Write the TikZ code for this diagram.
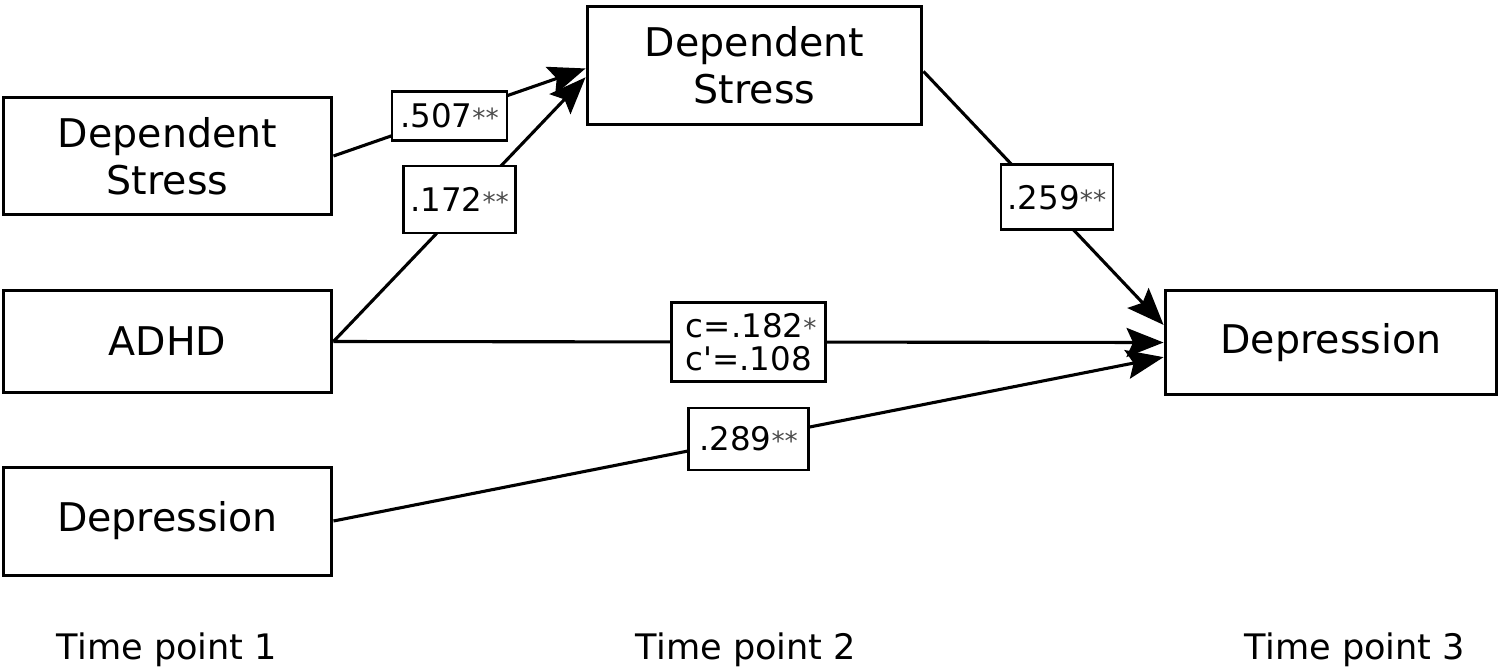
\documentclass[tikz,border=0pt]{standalone}
\usepackage{fontspec}
\setmainfont{DejaVu Sans}[Ligatures=ResetAll]
\usetikzlibrary{arrows.meta,calc}
\newcommand\mystars[1]{{\fontsize{15}{15}\selectfont\color{black!70}#1}}
\newcommand\myquote{\XeTeXglyph\XeTeXglyphindex "quotesingle"\relax}
\begin{document}
\begin{tikzpicture}[x=0.02cm,y=-0.02cm,
  box/.style={draw, line width=0.06cm, align=center, inner sep=0pt,
    font=\fontsize{22.5}{27}\selectfont},
  lab/.style={draw, fill=white, line width=0.055cm, align=center, inner sep=0pt,
    font=\fontsize{18.5}{19}\selectfont},
  conn/.style={line width=0.062cm, -{Stealth[length=0.74cm,width=0.58cm,inset=0.13cm]}},
  tp/.style={font=\fontsize{20}{24}\selectfont, inner sep=0pt}]
\useasboundingbox (0,0) rectangle (1500,670);
\node[box, minimum width=6.58cm, minimum height=2.36cm] (ds1) at (167.5,156) {Dependent\\Stress};
\node[box, minimum width=6.58cm, minimum height=2.06cm] (adhd) at (167.5,341.5) {ADHD};
\node[box, minimum width=6.58cm, minimum height=2.16cm] (dep1) at (167.5,521) {Depression};
\node[box, minimum width=6.70cm, minimum height=2.38cm] (ds2) at (754.5,65.5) {Dependent\\Stress};
\node[box, minimum width=6.64cm, minimum height=2.10cm] (dep3) at (1331,342.5) {Depression};
\draw[conn] (ds1.east) -- node[lab, pos=0.46, minimum width=2.3cm, minimum height=0.98cm] (l507) {.507\mystars{**}} (ds2.181);
\draw[conn] (adhd.east) -- node[lab, pos=0.5, yshift=0.2cm, minimum width=2.24cm, minimum height=1.34cm] (l172) {.172\mystars{**}} (ds2.184);
\draw[conn] (ds2.358) -- node[lab, pos=0.556, yshift=0.3cm, minimum width=2.24cm, minimum height=1.3cm] (l259) {.259\mystars{**}} (dep3.174);
\draw[conn] (adhd.east) -- node[lab, pos=0.5, minimum width=3.08cm, minimum height=1.58cm] (lc) {\,c=.182\mystars{*}\\c\myquote=.108} (dep3.180);
\draw[conn] (dep1.east) -- node[lab, pos=0.5, minimum width=2.4cm, minimum height=1.24cm] (l289) {.289\mystars{**}} (dep3.185);
\node[tp] (t1) at (167,650) {Time point 1};
\node[tp] (t2) at (746,650) {Time point 2};
\node[tp] (t3) at (1355,650) {Time point 3};
\end{tikzpicture}
\end{document}
